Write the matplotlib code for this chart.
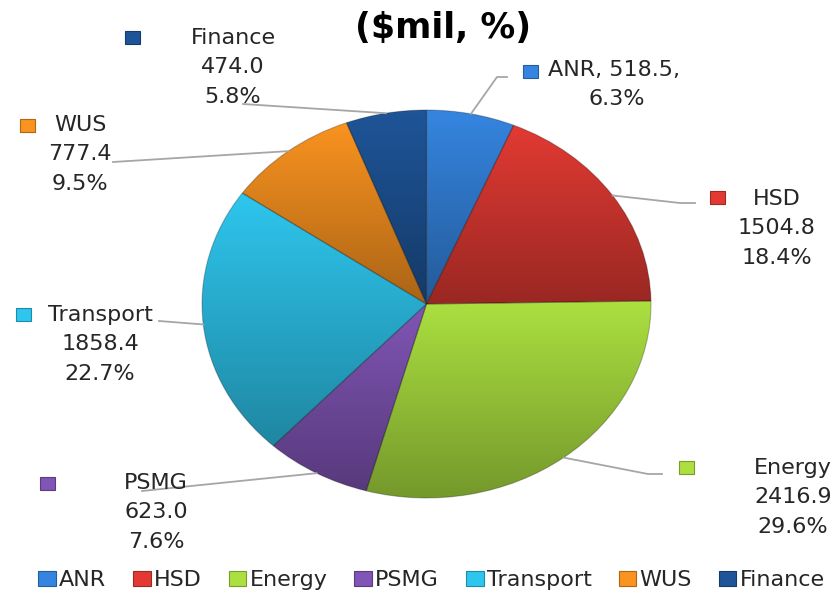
import numpy as np
import matplotlib
matplotlib.use("Agg")
import matplotlib.pyplot as plt
from matplotlib.colors import to_rgb
from matplotlib.patches import Rectangle

# data
names = ["ANR", "HSD", "Energy", "PSMG", "Transport", "WUS", "Finance"]
values = [518.5, 1504.8, 2416.9, 623.0, 1858.4, 777.4, 474.0]
colors = ["#3585E0", "#E23A33", "#ABE040", "#8055B5", "#2EC6EE", "#FA9320", "#1E5598"]
title = "($mil, %)"

# layout of the data labels (pixels from top-left)
marker_pos = [(530, 71), (717, 197), (686, 467), (47, 483), (23, 314), (27, 125), (132, 37)]
text_x = [617, 777, 793, 156, 100, 80, 233]
text_y = [70, 199, 468, 483, 315, 125, 38]
leader_pts = [[(507, 77), (497, 77)], [(695, 203), (680, 203)], [(662, 474), (648, 474)],
              [(142, 491)], [(159, 321)], [(113, 162)], [(243, 104)]]
line_step = 29.3

text_color = "#262626"
label_size = 16

W, H = 836, 594
fig = plt.figure(figsize=(W / 100, H / 100), dpi=100)

# pie axes spans the (slightly elliptical) pie
px0, px1, py0, py1 = 202, 651, 110, 498
ax = fig.add_axes([px0 / W, 1 - py1 / H, (px1 - px0) / W, (py1 - py0) / H])
wedges, _ = ax.pie(values, colors=colors, startangle=90, counterclock=False,
                   wedgeprops=dict(linewidth=0))
ax.set_aspect("auto")
ax.set_xlim(-1, 1)
ax.set_ylim(-1, 1)
ax.axis("off")

# vertical gradient in each slice, light at top, darker at bottom
for w, c in zip(wedges, colors):
    top = np.array(to_rgb(c))
    bot = top * 0.68
    t = np.linspace(0, 1, 200)[:, None]
    grad = (top[None, :] * (1 - t) + bot[None, :] * t)[:, None, :]
    bb = w.get_path().get_extents(w.get_patch_transform())
    im = ax.imshow(grad, extent=(bb.x0, bb.x1, bb.y0, bb.y1), origin="upper",
                   aspect="auto", interpolation="bilinear", zorder=2)
    im.set_clip_path(w)
    w.set_facecolor("none")
    w.set_edgecolor((0, 0, 0, 0.25))
    w.set_linewidth(0.8)
    w.set_zorder(3)
ax.set_xlim(-1, 1)
ax.set_ylim(-1, 1)

# overlay axes in pixel units for labels and leader lines
ov = fig.add_axes([0, 0, 1, 1])
ov.set_xlim(0, W)
ov.set_ylim(H, 0)
ov.axis("off")
ov.set_facecolor("none")

total = sum(values)
to_ov = ax.transData + ov.transData.inverted()
for i, (w, name, val) in enumerate(zip(wedges, names, values)):
    mid = np.deg2rad((w.theta1 + w.theta2) / 2)
    rx, ry = to_ov.transform((np.cos(mid), np.sin(mid)))
    pts = leader_pts[i] + [(rx, ry)]
    ov.plot([p[0] for p in pts], [p[1] for p in pts], color="#A6A6A6", lw=1.3, zorder=1)

    mx, my = marker_pos[i]
    ov.add_patch(Rectangle((mx - 7.5, my - 6.5), 15, 13, facecolor=colors[i],
                           edgecolor=tuple(np.array(to_rgb(colors[i])) * 0.7), lw=0.8, zorder=4))

    pct = f"{val / total * 100:.1f}%"
    if name == "ANR":
        ov.text(mx + 18, text_y[i], f"{name}, {val:.1f},", ha="left", va="center",
                fontsize=label_size, color=text_color, zorder=5)
        ov.text(text_x[i], text_y[i] + line_step, pct, ha="center", va="center",
                fontsize=label_size, color=text_color, zorder=5)
    else:
        for k, s in enumerate([name, f"{val:.1f}", pct]):
            ov.text(text_x[i], text_y[i] + k * line_step, s, ha="center", va="center",
                    fontsize=label_size, color=text_color, zorder=5)

ov.text(443, 28, title, ha="center", va="center", fontsize=25, fontweight="bold",
        color="black")

# legend at bottom
handles = [Rectangle((0, 0), 1, 1, facecolor=c, edgecolor=tuple(np.array(to_rgb(c)) * 0.7), lw=0.8)
           for c in colors]
fig.legend(handles, names, loc="center", bbox_to_anchor=(431.5 / W, 1 - 580 / H), ncol=7,
           frameon=False, fontsize=label_size, handlelength=0.8, handleheight=0.68,
           handletextpad=0.15, columnspacing=1.2, labelcolor=text_color)

fig.savefig("out.png", dpi=100)
